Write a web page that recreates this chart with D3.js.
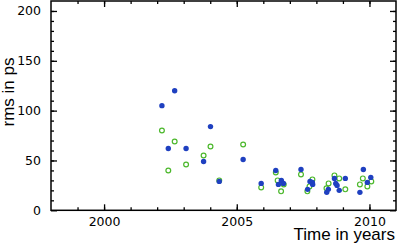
<!DOCTYPE html>
<html>
<head>
<meta charset="utf-8">
<script src="https://cdn.jsdelivr.net/npm/d3@7"></script>
<style>
  body { margin: 0; background: #fff; }
  svg { display: block; font-family: "Liberation Sans", Arial, sans-serif; }
</style>
</head>
<body>
<svg id="chart" width="399" height="244"></svg>
<script>
// blue series (filled dots)
const blueYears = [2002.18, 2002.42, 2002.66, 2003.09, 2003.75, 2004.01, 2004.34, 2005.24, 2005.92,
  2006.47, 2006.57, 2006.68, 2006.76, 2007.42, 2007.67, 2007.76, 2007.85, 2007.86, 2008.39, 2008.45,
  2008.68, 2008.73, 2008.78, 2008.86, 2009.09, 2009.64, 2009.77, 2009.92, 2010.05];
const blueRms = [105, 62, 120, 62, 49, 84, 29, 51, 27,
  40, 26, 30, 27, 41, 21, 29, 28, 26, 18, 21,
  32, 27, 25, 20, 32, 18, 41, 28, 33];

// green series (open circles)
const greenYears = [2002.18, 2002.42, 2002.66, 2003.09, 2003.75, 2004.01, 2004.34, 2005.24, 2005.92,
  2006.47, 2006.54, 2006.67, 2006.77, 2007.42, 2007.66, 2007.74, 2007.85, 2008.38, 2008.46,
  2008.68, 2008.86, 2009.09, 2009.64, 2009.75, 2009.92, 2010.07];
const greenRms = [80, 40, 69, 46, 55, 64, 30, 66, 23,
  38, 30, 19, 26, 36, 19, 24, 31, 22, 27,
  35, 32, 21, 26, 32, 24, 29];

const xTicks = [2000, 2005, 2010];
const yTicks = [0, 50, 100, 150, 200];

const svg = d3.select("#chart");
const plotLeft = 51, plotRight = 396, plotTop = 1, plotBottom = 210.3;

const x = d3.scaleLinear().domain([1998, 2011]).range([plotLeft, plotRight]);
const y = d3.scaleLinear().domain([0, 210]).range([plotBottom, plotTop]);

const minorX = d3.range(1999, 2011);
const minorY = d3.range(10, 210, 10);

function styleAxis(g) {
  g.select(".domain").remove();
  g.selectAll("line").attr("stroke", "#000").attr("stroke-width", 1.3);
  g.selectAll("text")
    .attr("fill", "#000")
    .attr("font-family", "'DejaVu Sans', sans-serif")
    .attr("font-size", "12.5px");
}

// minor ticks
svg.append("g").attr("transform", `translate(0,${plotBottom})`)
  .call(d3.axisBottom(x).tickValues(minorX).tickSize(-3).tickFormat(""))
  .call(styleAxis);
svg.append("g").attr("transform", `translate(0,${plotTop})`)
  .call(d3.axisTop(x).tickValues(minorX).tickSize(-3).tickFormat(""))
  .call(styleAxis);
svg.append("g").attr("transform", `translate(${plotLeft},0)`)
  .call(d3.axisLeft(y).tickValues(minorY).tickSize(-3).tickFormat(""))
  .call(styleAxis);
svg.append("g").attr("transform", `translate(${plotRight},0)`)
  .call(d3.axisRight(y).tickValues(minorY).tickSize(-3).tickFormat(""))
  .call(styleAxis);

// major ticks
svg.append("g").attr("transform", `translate(0,${plotBottom})`)
  .call(d3.axisBottom(x).tickValues(xTicks).tickSize(-6).tickPadding(7).tickFormat(d3.format("d")))
  .call(styleAxis);
svg.append("g").attr("transform", `translate(0,${plotTop})`)
  .call(d3.axisTop(x).tickValues(xTicks).tickSize(-6).tickFormat(""))
  .call(styleAxis);
svg.append("g").attr("transform", `translate(${plotLeft},0)`)
  .call(d3.axisLeft(y).tickValues(yTicks).tickSize(-6).tickPadding(10))
  .call(styleAxis);
svg.append("g").attr("transform", `translate(${plotRight},0)`)
  .call(d3.axisRight(y).tickValues(yTicks).tickSize(-6).tickFormat(""))
  .call(styleAxis);

// frame
svg.append("rect")
  .attr("x", plotLeft).attr("y", plotTop)
  .attr("width", plotRight - plotLeft).attr("height", plotBottom - plotTop)
  .attr("fill", "none").attr("stroke", "#000").attr("stroke-width", 1.5);

// green open circles
svg.append("g").selectAll("circle")
  .data(greenYears.map((d, i) => ({ t: d, v: greenRms[i] })))
  .join("circle")
  .attr("cx", d => x(d.t))
  .attr("cy", d => y(d.v))
  .attr("r", 2.4)
  .attr("fill", "none")
  .attr("stroke", "#4cb82c")
  .attr("stroke-width", 1.2);

// blue filled dots
svg.append("g").selectAll("circle")
  .data(blueYears.map((d, i) => ({ t: d, v: blueRms[i] })))
  .join("circle")
  .attr("cx", d => x(d.t))
  .attr("cy", d => y(d.v))
  .attr("r", 2.7)
  .attr("fill", "#1f40c0");

// axis labels
svg.append("text")
  .attr("x", plotRight - 1).attr("y", 240)
  .attr("text-anchor", "end")
  .attr("font-size", "17px")
  .text("Time in years");

svg.append("text")
  .attr("transform", `translate(13.5,92) rotate(-90)`)
  .attr("text-anchor", "middle")
  .attr("font-size", "17px")
  .text("rms in ps");
</script>
</body>
</html>
